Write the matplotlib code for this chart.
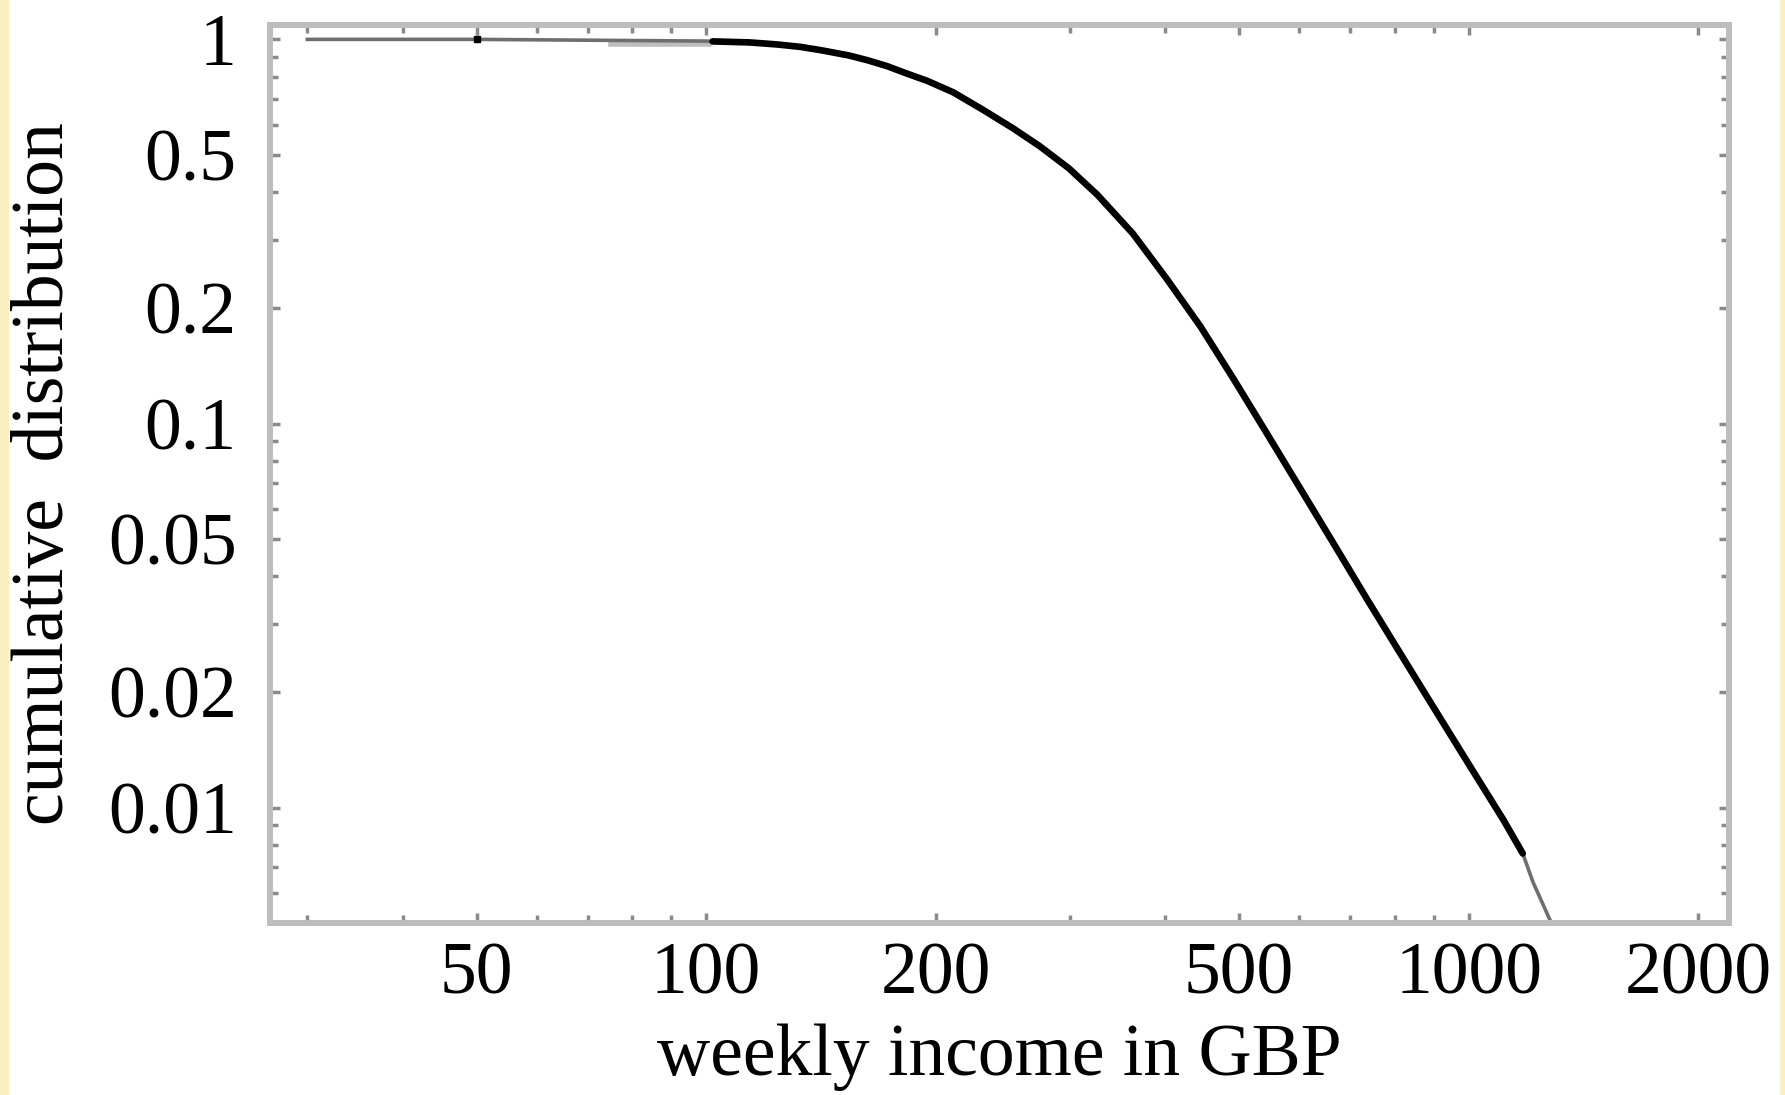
import matplotlib.pyplot as plt
from matplotlib.patches import Rectangle
from matplotlib.ticker import FixedLocator, LogLocator, NullFormatter

# cumulative share of earners above a given weekly income
flat_income = [30, 50, 100]
flat_share = [1.0, 1.0, 0.99]

income = [102, 114, 124, 133, 142, 154, 163, 173, 183, 195, 211, 231, 253,
          274, 299, 326, 363, 402, 445, 491, 544, 607, 665, 736, 813, 899,
          1005, 1111, 1178]
share = [0.988, 0.982, 0.970, 0.956, 0.936, 0.908, 0.882, 0.851, 0.816,
         0.780, 0.728, 0.655, 0.586, 0.527, 0.462, 0.394, 0.312, 0.238,
         0.179, 0.1314, 0.0942, 0.0658, 0.0488, 0.0349, 0.0253, 0.0183,
         0.0128, 0.0093, 0.0076]

# fitted tail beyond the last data point
tail_income = [1178, 1215, 1279, 1300]
tail_share = [0.0076, 0.0064, 0.0051, 0.0047]

# light grey segment near the top
grey_income = [75, 101]
grey_share = [0.975, 0.975]

xticks = [50, 100, 200, 500, 1000, 2000]
yticks = [0.01, 0.02, 0.05, 0.1, 0.2, 0.5, 1]
ytick_labels = ['0.01', '0.02', '0.05', '0.1', '0.2', '0.5', '1']

plt.rcParams['font.family'] = ['Liberation Serif', 'DejaVu Serif']

fig = plt.figure(figsize=(17.85, 10.95), dpi=100, facecolor='#f9f0c1')
fig.patches.append(Rectangle((9 / 1785, 0), 1771 / 1785, 1, transform=fig.transFigure,
                             facecolor='white', edgecolor='none', zorder=-1))

ax = fig.add_axes([270 / 1785, 1 - 923 / 1095, 1459 / 1785, 898 / 1095])
ax.set_xscale('log')
ax.set_yscale('log')

ax.plot(grey_income, grey_share, color='#bdbdbd', lw=4)
ax.plot(flat_income + income + tail_income, flat_share + share + tail_share,
        color='#6e6e6e', lw=2.6)
ax.plot(income, share, color='black', lw=4.8, solid_capstyle='round',
        solid_joinstyle='round')
ax.plot([50], [1.0], 's', color='black', ms=5)

ax.set_xlim(26.8, 2196)
ax.set_ylim(0.00501, 1.09)

ax.xaxis.set_major_locator(FixedLocator(xticks))
ax.set_xticklabels([str(v) for v in xticks])
ax.xaxis.set_minor_locator(LogLocator(base=10, subs=range(2, 10), numticks=20))
ax.xaxis.set_minor_formatter(NullFormatter())
ax.yaxis.set_major_locator(FixedLocator(yticks))
ax.set_yticklabels(ytick_labels)
ax.yaxis.set_minor_locator(LogLocator(base=10, subs=range(2, 10), numticks=20))
ax.yaxis.set_minor_formatter(NullFormatter())

for sp in ax.spines.values():
    sp.set_color('#bdbdbd')
    sp.set_linewidth(4.3)

ax.tick_params(which='both', direction='in', top=True, right=True,
               color='#8a8a8a', width=2.5, labelsize=53, labelcolor='black')
ax.tick_params(which='major', length=7)
ax.tick_params(which='minor', length=6)
ax.tick_params(axis='x', pad=14)
ax.tick_params(axis='y', pad=24)

ax.set_xlabel('weekly income in GBP', fontsize=53, va='center')
ax.xaxis.set_label_coords(0.5, -0.15)
ax.set_ylabel('cumulative  distribution', fontsize=53, va='center')
ax.yaxis.set_label_coords(-0.154, 0.5)

fig.savefig('out.png', dpi=100, facecolor=fig.get_facecolor())
